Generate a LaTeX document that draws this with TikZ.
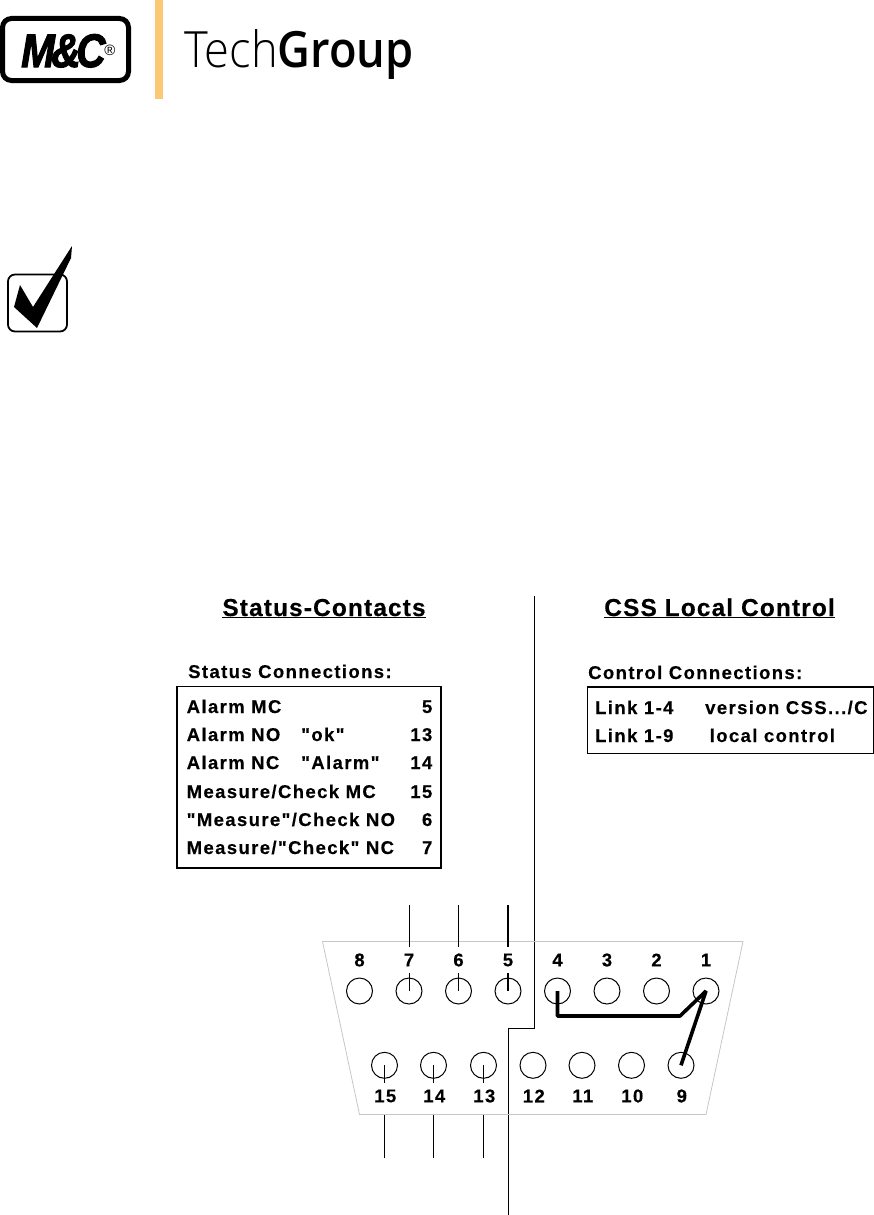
\documentclass[tikz,border=0pt]{standalone}
\usepackage{fontspec}
\usetikzlibrary{calc}
\setmainfont{Liberation Sans}
\newfontfamily\panelfont{Liberation Sans}[LetterSpace=7.5,BoldFeatures={FakeBold=0.3}]
\newfontfamily\headfont{Liberation Sans}[LetterSpace=4.5,BoldFeatures={FakeBold=0.3}]
\newfontfamily\logobold{Liberation Sans}[BoldItalicFeatures={FakeBold=2.5}]
\newfontfamily\logolight{Open Sans Light}
\newfontfamily\logosemi{Open Sans Semibold}
\definecolor{logobar}{HTML}{FDC873}
\tikzset{
  txt/.style={inner sep=0pt,anchor=base west,font=\panelfont\fontsize{18.5}{18.5}\selectfont\bfseries},
  num/.style={inner sep=0pt,anchor=base east,font=\panelfont\fontsize{18.5}{18.5}\selectfont\bfseries},
  pin/.style={draw,circle,minimum size=26pt,inner sep=0pt,line width=1pt},
  pinlabel/.style={inner sep=0pt,minimum height=26pt,font=\panelfont\fontsize{18.5}{18.5}\selectfont\bfseries},
  head/.style={inner sep=0pt,anchor=base,font=\headfont\fontsize{24.5}{25}\selectfont\bfseries},
  wire/.style={line width=1pt},
  jumper/.style={line width=3.6pt,line join=bevel},
  panel/.style={line width=1.4pt}
}
\begin{document}
\begin{tikzpicture}[x=1pt,y=-1pt]
\useasboundingbox (0,0) rectangle (874,1215);

% logo
\draw[line width=5pt,rounded corners=9pt] (2.5,18.5) rectangle (128.5,80.5);
\node[inner sep=0pt,anchor=base west] (mc) at (21,67) {\logobold\fontsize{47}{47}\selectfont\bfseries\itshape\scalebox{0.86}[1]{M\kern-4pt\&\kern-5pt C}};
\node[inner sep=0pt,anchor=center] (reg) at (110,50) {\logobold\fontsize{15}{15}\selectfont\textregistered};
\fill[logobar] (155,0) rectangle (163,99);
\node[inner sep=0pt,anchor=base west] (logotext) at (184,67) {\fontsize{50}{50}\selectfont\scalebox{0.905}[1]{{\logolight Tech}{\logosemi Group}}};

% check mark
\draw[line width=1.8pt,rounded corners=7pt] (8,274.5) rectangle (67,331.5);
\fill (72,246) -- (71,258) -- (37,328) -- (14,307) -- (20,285) -- (33,307) -- cycle;

% headings
\node[head] (status) at (324,616) {\underline{Status-Contacts}};
\node[head] (control) at (719.5,616) {\underline{CSS Local Control}};
\coordinate (sep top) at (534,596);
\coordinate (sep end) at (508.5,1215);
\draw[wire] (sep top) -- (534,1028) -- (508.5,1028) -- (sep end);

% status table
\node[txt] (status title) at (188,678) {Status Connections:};
\draw[panel] (177,686.5) rectangle (441,868);
\foreach \row/\ypos/\name/\num in
  {a/713/Alarm MC/5,b/741/Alarm NO/13,c/769/Alarm NC/14,
   d/798/{Measure/Check MC}/15,e/826/{"Measure"/Check NO}/6,f/854/{Measure/"Check" NC}/7}
  {
   \node[txt] (name\row) at (186.5,\ypos) {\name};
   \node[num] (num\row) at (432.5,\ypos) {\num};
  }
\node[txt] (ok) at (301,741) {"ok"};
\node[txt] (alarm) at (301,769) {"Alarm"};

% control table
\node[txt] (control title) at (588,679) {Control Connections:};
\draw[panel] (587.5,687) rectangle (873.5,753.5);
\node[txt] (link a) at (595,714) {Link 1-4};
\node[txt] (link b) at (595,742) {Link 1-9};
\node[txt] (version) at (705,714) {version CSS.../C};
\node[txt] (local) at (709.5,742) {local control};

% connector body
\draw[gray!45,line width=0.8pt] (322.5,941.5) -- (743,941.5) -- (706,1114.5) -- (359.5,1114.5) -- cycle;
\foreach \n/\x in {8/359.5,7/409,6/458.5,5/508,4/557.5,3/607,2/656.5,1/706}
  {
   \node[pin] (p\n) at (\x,991) {};
   \node[pinlabel] (l\n) at (\x,960) {\n};
  }
\foreach \n/\x in {15/384.5,14/433.5,13/483.5,12/533,11/582,10/631.5,9/681}
  {
   \node[pin] (p\n) at (\x,1065.3) {};
   \node[pinlabel] (l\n) at (\x+0.8,1096) {\n};
  }

% status wires
\foreach \n/\w in {7/1pt,6/1pt,5/1.8pt}
  {
   \coordinate (t\n) at ($(p\n)+(0,-86)$);
   \draw[line width=\w] (t\n) -- (l\n.north);
   \draw[line width=\w] (l\n.south) -- (p\n.center);
  }
\foreach \n in {15,14,13}
  {
   \coordinate (s\n) at ($(p\n)+(0,18)$);
   \coordinate (b\n) at ($(p\n)+(0,50)$);
   \coordinate (e\n) at ($(p\n)+(0,93)$);
   \draw[wire] (p\n.center) -- (s\n);
   \draw[wire] (b\n) -- (e\n);
  }

% links
\coordinate (bend a) at (557.5,1016);
\coordinate (bend b) at (680,1016);
\draw[jumper] (p4.center) -- (bend a) -- (bend b) -- (p1.center) -- (p9.center);
\end{tikzpicture}
\end{document}
